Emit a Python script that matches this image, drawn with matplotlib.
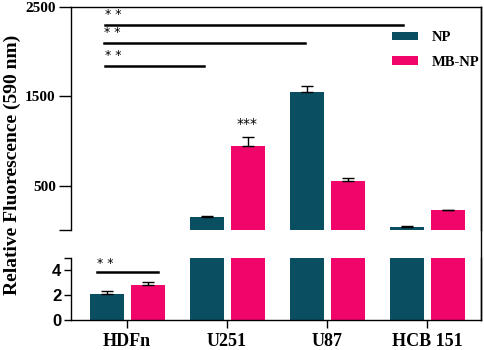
import matplotlib
matplotlib.use('Agg')
import matplotlib.pyplot as plt
import numpy as np
from matplotlib.lines import Line2D

cells = ['HDFn', 'U251', 'U87', 'HCB 151']
np_vals = [2.1, 155, 1555, 45]
np_err = [0.25, 15, 60, 8]
mb_vals = [2.8, 950, 555, 228]
mb_err = [0.25, 95, 35, 7]

teal = '#0a4e62'
pink = '#f1056b'
serif = 'Liberation Serif'
sans = 'Liberation Sans'

fig = plt.figure(figsize=(4.84, 3.5), dpi=100)
left, right = 71 / 484, 481 / 484
ax_top = fig.add_axes([left, 1 - 230 / 350, right - left, 223 / 350])
ax_bot = fig.add_axes([left, 1 - 320 / 350, right - left, 62 / 350])

x = np.arange(len(cells))
w = 0.34
off = 0.205
for ax, lo, hi in ((ax_top, 8, 2500), (ax_bot, 0, 5)):
    for vals, err, dx, col, lab in ((np_vals, np_err, -off, teal, 'NP'),
                                    (mb_vals, mb_err, off, pink, 'MB-NP')):
        vals = np.array(vals, dtype=float)
        err = np.array(err, dtype=float)
        ax.bar(x + dx, vals, w, color=col, label=lab, zorder=2)
        # only show error bars whose caps fall inside this panel
        show = (vals + err > lo) & (vals + err < hi)
        ax.errorbar(x[show] + dx, vals[show],
                    yerr=[np.zeros(show.sum()), err[show]], fmt='none',
                    ecolor='black', elinewidth=1, capthick=1, capsize=4.5,
                    zorder=3)
    ax.set_xlim(-0.56, 3.54)
    ax.set_ylim(lo, hi)
    for s in ax.spines.values():
        s.set_linewidth(1.0)

# upper panel
ax_top.set_yticks([8, 500, 1500, 2500])
ax_top.set_yticklabels(['', '500', '1500', '2500'], fontfamily=serif,
                       fontweight='bold', fontsize=11)
ax_top.tick_params(axis='y', length=9, width=1, pad=2)
ax_top.spines['bottom'].set_visible(False)
ax_top.set_xticks([])

# lower panel
ax_bot.set_yticks([0, 2, 4, 5])
ax_bot.set_yticklabels(['0', '2', '4', ''], fontfamily=sans,
                       fontweight='bold', fontsize=12)
ax_bot.tick_params(axis='y', length=5, width=1, pad=2)
ax_bot.spines['top'].set_visible(False)
ax_bot.set_xticks(x)
ax_bot.set_xticklabels(cells, fontfamily=serif, fontweight='bold', fontsize=13)
ax_bot.tick_params(axis='x', length=6, width=1, pad=3)

# frame line on the right across the break
fig.add_artist(Line2D([right, right], [1 - 320 / 350, 1 - 7 / 350],
                      transform=fig.transFigure, color='black', lw=1.0,
                      zorder=10))

# significance bars
sig = [(-0.22, 2.76, 2300), (-0.23, 1.78, 2098), (-0.22, 0.77, 1840)]
for x0, x1, y in sig:
    ax_top.plot([x0, x1], [y, y], color='black', lw=1.8, zorder=3)
    ax_top.text(x0, y + 40, '* *', fontsize=9, ha='left', va='bottom')
ax_top.text(x[1] + off, 1110, '***', fontsize=10, ha='center', va='bottom')
ax_bot.plot([-0.30, 0.31], [3.9, 3.9], color='black', lw=1.8, zorder=3)
ax_bot.text(-0.30, 4.05, '* *', fontsize=9, ha='left', va='bottom')

# legend
ax_top.legend(loc='upper left', bbox_to_anchor=(392 / 484, 1 - 31 / 350),
              bbox_transform=fig.transFigure, frameon=False,
              prop=dict(family=serif, weight='bold', size=10.5),
              handlelength=1.75, handleheight=0.5, handletextpad=0.95,
              labelspacing=0.8, borderaxespad=0, borderpad=0)

fig.text(0.025, 0.53, 'Relative Fluorescence (590 nm)', rotation=90,
         ha='center', va='center', fontfamily=serif, fontweight='bold',
         fontsize=14)

fig.savefig('out.png', dpi=100)
